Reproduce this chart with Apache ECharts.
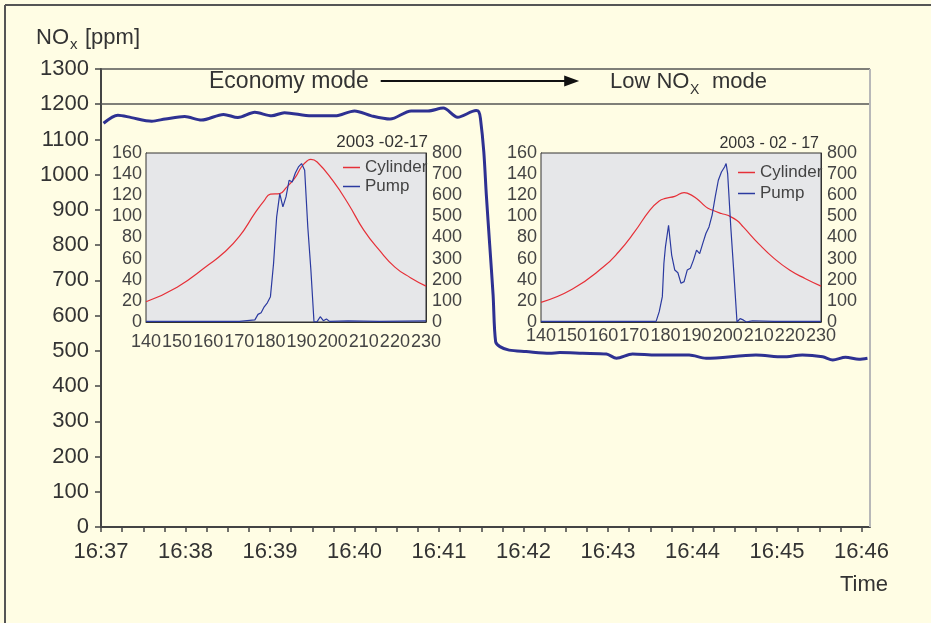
<!DOCTYPE html>
<html>
<head>
<meta charset="utf-8">
<script src="https://cdn.jsdelivr.net/npm/echarts@6/dist/echarts.min.js"></script>
<style>
  html, body { margin: 0; padding: 0; background: #fffde4; }
  #main { width: 931px; height: 623px; }
</style>
</head>
<body>
<div id="main"></div>
<script>
// 主图: NOx 随时间 (分钟, 从 16:37 起)
var xTickLabels = ['16:37', '16:38', '16:39', '16:40', '16:41', '16:42', '16:43', '16:44', '16:45', '16:46'];
var mainTime = [0.03, 0.2, 0.36, 0.6, 0.76, 0.99, 1.19, 1.45, 1.62, 1.82, 2.02, 2.17, 2.49, 2.77, 3.0, 3.2, 3.42, 3.67, 3.87, 4.05, 4.22, 4.44, 4.47,
    4.49, 4.53, 4.56, 4.6, 4.64, 4.67, 4.72, 4.83, 5.03, 5.31, 5.43, 5.7, 5.98, 6.1, 6.29, 6.57, 6.96, 7.16, 7.75, 8.07, 8.3, 8.54, 8.66, 8.81, 8.97, 9.07];
var mainNox = [1146, 1169, 1162, 1152, 1158, 1165, 1155, 1171, 1162, 1177, 1167, 1176, 1167, 1167, 1181, 1167, 1158, 1181, 1181, 1189, 1163, 1182, 1179,
    1160, 1065, 942, 800, 658, 526, 512, 502, 498, 493, 495, 493, 491, 479, 491, 488, 488, 479, 488, 483, 488, 483, 474, 482, 476, 479];

// 小图 1 (Economy mode)
var cyl1X = [140, 150, 160, 165, 170, 175, 178, 180, 183, 185, 188, 190, 192, 193, 195, 200, 205, 210, 215, 220, 225, 230];
var cyl1Y = [19.2, 33, 54, 65.5, 81, 103, 115, 121, 121.6, 127, 137, 147, 153, 154, 151.5, 134, 112, 87, 68, 52, 42, 34];
var pump1X = [140, 150, 160, 170, 175, 176, 177, 178, 179, 180, 181, 182, 183, 184, 185, 186, 187, 188, 189, 190, 190.5, 191, 192, 193, 194, 195, 196, 197, 198, 199, 205, 215, 230];
var pump1Y = [3, 3, 3, 3, 10, 36, 44, 72, 91, 120, 277, 498, 608, 545, 592, 671, 663, 705, 734, 750, 750, 718, 451, 246, 0, 2, 25, 6, 14, 3, 5, 3, 5];

// 小图 2 (Low NOx mode)
var cyl2X = [140, 150, 160, 165, 170, 175, 178, 180, 183, 186, 187, 190, 193, 195, 198, 200, 203, 205, 210, 215, 220, 225, 230];
var cyl2Y = [18.6, 31, 52, 66.5, 85, 106, 114.6, 117, 119, 122.5, 122, 117, 109, 106, 102.7, 101, 96, 90, 74, 60, 49, 41, 34];
var pump2X = [140, 160, 177, 178, 179, 179.5, 180, 180.5, 181, 181.5, 182, 182.5, 183, 184, 185, 186, 187, 188, 189, 190, 191, 192, 193, 194, 195, 196, 197, 198, 199, 199.5, 200, 201, 202, 203, 204, 205, 206, 207, 208, 215, 230];
var pump2Y = [3, 3, 3, 49, 120, 277, 356, 364, 458, 387, 317, 308, 246, 233, 183, 191, 246, 254, 293, 340, 324, 372, 419, 450, 506, 592, 671, 710, 734, 750, 702, 450, 230, 0, 16, 10, 0, 3, 6, 3, 3];

var dateLabels = ['2003 -02-17', '2003 - 02 - 17'];

function pairs(xs, ys) {
    var out = [];
    for (var i = 0; i < xs.length; i++) out.push([xs[i], ys[i]]);
    return out;
}

var quarterTicks = [];
for (var q = 0; q <= 36; q++) quarterTicks.push(q / 4);
var minuteTicks = [];
for (var m = 0; m < xTickLabels.length; m++) minuteTicks.push(m);

var txt = '#333';
var font = 'Liberation Sans';
var red = '#e63038';
var blue = '#2b3aa0';

function plain(v) { return String(v); }

function insetX(idx, margin) {
    return {
        type: 'value', gridIndex: idx, min: 140, max: 230, interval: 10,
        axisLine: { lineStyle: { color: '#333', width: 1 } },
        axisTick: { show: false },
        axisLabel: { color: '#444', fontSize: 18, margin: margin, formatter: plain },
        splitLine: { show: true, lineStyle: { color: '#d2d3d6', width: 1 } }
    };
}
function insetY(idx, right) {
    return {
        type: 'value', gridIndex: idx, position: right ? 'right' : 'left',
        min: 0, max: right ? 800 : 160, interval: right ? 100 : 20,
        axisLine: { show: true, lineStyle: { color: '#333', width: 1 } },
        axisTick: { show: false },
        axisLabel: { color: '#444', fontSize: 18, margin: right ? 6 : 4, formatter: plain },
        splitLine: { show: !right, lineStyle: { color: '#d2d3d6', width: 1 } }
    };
}
function insetLegend(left, top, gap) {
    return {
        left: left, top: top, orient: 'vertical', icon: 'rect', itemWidth: 17, itemHeight: 1.5, itemGap: gap,
        textStyle: { fontSize: 17, color: '#444', fontFamily: font },
        data: ['Cylinder', 'Pump']
    };
}

var myChart = echarts.init(document.getElementById('main'));

var option = {
    backgroundColor: '#fffde4',
    animation: false,
    textStyle: { fontFamily: font, color: txt },
    grid: [
        { left: 101, top: 69, width: 769, height: 458 },
        { left: 146, top: 153, width: 280, height: 169, show: true, backgroundColor: '#e6e7e9', borderColor: '#333', borderWidth: 1, z: 3 },
        { left: 541, top: 153, width: 280, height: 169, show: true, backgroundColor: '#e6e7e9', borderColor: '#333', borderWidth: 1, z: 3 }
    ],
    xAxis: [
        {
            type: 'value', gridIndex: 0, min: 0, max: 9.1,
            axisLine: { lineStyle: { color: '#444', width: 2 } },
            axisTick: { show: true, customValues: quarterTicks, length: 5, lineStyle: { color: '#444', width: 1.5 } },
            axisLabel: {
                customValues: minuteTicks, fontSize: 22, color: txt, margin: 14,
                formatter: function (v) { return xTickLabels[Math.round(v)]; }
            },
            splitLine: { show: false }
        },
        insetX(1, 11),
        insetX(2, 5)
    ],
    yAxis: [
        {
            type: 'value', gridIndex: 0, min: 0, max: 1300, interval: 100,
            axisLine: { show: true, lineStyle: { color: '#444', width: 2 } },
            axisTick: { show: true, length: 6, lineStyle: { color: '#444', width: 1.5 } },
            axisLabel: { fontSize: 22, color: txt, margin: 12, formatter: plain },
            splitLine: { show: false }
        },
        insetY(1, false), insetY(1, true),
        insetY(2, false), insetY(2, true)
    ],
    legend: [
        insetLegend(338, 154, 2),
        insetLegend(733, 159, 4)
    ],
    graphic: [
        { type: 'line', shape: { x1: 5, y1: 5, x2: 931, y2: 5 }, style: { stroke: '#555', lineWidth: 2 } },
        { type: 'line', shape: { x1: 5, y1: 5, x2: 5, y2: 623 }, style: { stroke: '#555', lineWidth: 2 } },
        { type: 'text', x: 36, y: 38, style: { text: 'NO', fontSize: 22, fill: txt, fontFamily: font, verticalAlign: 'middle' } },
        { type: 'text', x: 70, y: 45, style: { text: 'x', fontSize: 15, fill: txt, fontFamily: font, verticalAlign: 'middle' } },
        { type: 'text', x: 85, y: 38, style: { text: '[ppm]', fontSize: 22, fill: txt, fontFamily: font, verticalAlign: 'middle' } },
        { type: 'text', x: 888, y: 585, style: { text: 'Time', fontSize: 22, fill: txt, fontFamily: font, align: 'right', verticalAlign: 'middle' } },
        { type: 'text', x: 209, y: 82, style: { text: 'Economy mode', fontSize: 23, fill: txt, fontFamily: font, verticalAlign: 'middle' } },
        { type: 'text', x: 610, y: 82, style: { text: 'Low NO', fontSize: 22, fill: txt, fontFamily: font, verticalAlign: 'middle' } },
        { type: 'text', x: 690, y: 90, style: { text: 'X', fontSize: 14, fill: txt, fontFamily: font, verticalAlign: 'middle' } },
        { type: 'text', x: 712, y: 82, style: { text: 'mode', fontSize: 22, fill: txt, fontFamily: font, verticalAlign: 'middle' } },
        { type: 'text', x: 428, y: 142, style: { text: dateLabels[0], fontSize: 17, fill: txt, fontFamily: font, align: 'right', verticalAlign: 'middle' } },
        { type: 'text', x: 819, y: 144, style: { text: dateLabels[1], fontSize: 16, fill: txt, fontFamily: font, align: 'right', verticalAlign: 'middle' } }
    ],
    series: [
        {
            name: 'NOx', type: 'line', xAxisIndex: 0, yAxisIndex: 0,
            data: pairs(mainTime, mainNox), showSymbol: false, smooth: 0.3,
            lineStyle: { color: '#2e3192', width: 3 },
            markLine: {
                silent: true, symbol: ['none', 'none'], label: { show: false }, animation: false,
                data: [
                    { yAxis: 1300, lineStyle: { color: '#555', width: 1.5, type: 'solid' } },
                    { yAxis: 1200, lineStyle: { color: '#555', width: 1.5, type: 'solid' } },
                    { xAxis: 9.1, lineStyle: { color: '#b8b8b8', width: 2, type: 'solid' } },
                    [
                        { coord: [3.31, 1266], symbol: 'none' },
                        { coord: [5.57, 1266], symbol: 'triangle', symbolSize: [11, 15], lineStyle: { color: '#111', width: 2, type: 'solid' } }
                    ]
                ]
            }
        },
        {
            name: 'Cylinder', type: 'line', xAxisIndex: 1, yAxisIndex: 1, z: 4,
            data: pairs(cyl1X, cyl1Y), showSymbol: false, symbol: 'none', smooth: true,
            lineStyle: { color: red, width: 1.2 }, itemStyle: { color: red }
        },
        {
            name: 'Pump', type: 'line', xAxisIndex: 1, yAxisIndex: 2, z: 4,
            data: pairs(pump1X, pump1Y), showSymbol: false, symbol: 'none',
            lineStyle: { color: blue, width: 1.2 }, itemStyle: { color: blue }
        },
        {
            name: 'Cylinder', type: 'line', xAxisIndex: 2, yAxisIndex: 3, z: 4,
            data: pairs(cyl2X, cyl2Y), showSymbol: false, symbol: 'none', smooth: true,
            lineStyle: { color: red, width: 1.2 }, itemStyle: { color: red }
        },
        {
            name: 'Pump', type: 'line', xAxisIndex: 2, yAxisIndex: 4, z: 4,
            data: pairs(pump2X, pump2Y), showSymbol: false, symbol: 'none',
            lineStyle: { color: blue, width: 1.2 }, itemStyle: { color: blue }
        }
    ]
};

myChart.setOption(option);
</script>
</body>
</html>
